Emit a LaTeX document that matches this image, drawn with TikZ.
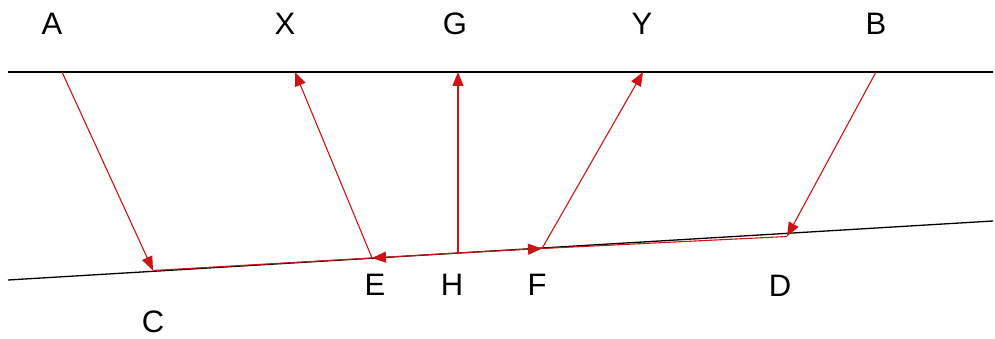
\documentclass[tikz,border=0pt]{standalone}
\usepackage{fontspec}
\setmainfont{Liberation Sans}
\usetikzlibrary{arrows.meta}
\definecolor{rayred}{RGB}{204,20,20}
\begin{document}
\begin{tikzpicture}[x=1pt,y=-1pt,
  mirror/.style={black,line width=1.3pt},
  ray/.style={rayred,line width=1.1pt},
  rayarrow/.style={ray,-{Triangle[length=14pt,width=11pt]}},
  lbl/.style={font=\fontsize{31}{31}\selectfont,inner sep=0pt}]
\useasboundingbox (0,0) rectangle (995,339);
% mirror lines
\coordinate (T1) at (8,72);
\coordinate (T2) at (993,72);
\coordinate (B1) at (8,280);
\coordinate (B2) at (993,221);
\draw[mirror] (T1) -- (T2);
\draw[mirror] (B1) -- (B2);
% points
\coordinate (A) at (62,72);
\coordinate (X) at (295,72);
\coordinate (G) at (458,72);
\coordinate (Y) at (643,72);
\coordinate (B) at (876,72);
\coordinate (C) at (153,270.5);
\coordinate (E) at (372,258);
\coordinate (H) at (458,253);
\coordinate (F) at (542,248.5);
\coordinate (D) at (787,236.5);
% rays along lower mirror
\draw[ray] (C) -- (E);
\draw[ray] (F) -- (D);
\draw[rayarrow] (H) -- (E);
\draw[rayarrow] (H) -- (F);
% rays between mirrors
\draw[rayarrow] (A) -- (C);
\draw[rayarrow] (E) -- (X);
\draw[rayarrow] (H) -- (G);
\draw[rayarrow] (F) -- (Y);
\draw[rayarrow] (B) -- (D);
% labels
\node[lbl] (lA) at (52,24) {A};
\node[lbl] (lX) at (285,24) {X};
\node[lbl] (lG) at (455,24) {G};
\node[lbl] (lY) at (642,24) {Y};
\node[lbl] (lB) at (876,24) {B};
\node[lbl] (lC) at (153,322) {C};
\node[lbl] (lE) at (375,285) {E};
\node[lbl] (lH) at (452,285) {H};
\node[lbl] (lF) at (537,285) {F};
\node[lbl] (lD) at (780,286) {D};
\end{tikzpicture}
\end{document}
